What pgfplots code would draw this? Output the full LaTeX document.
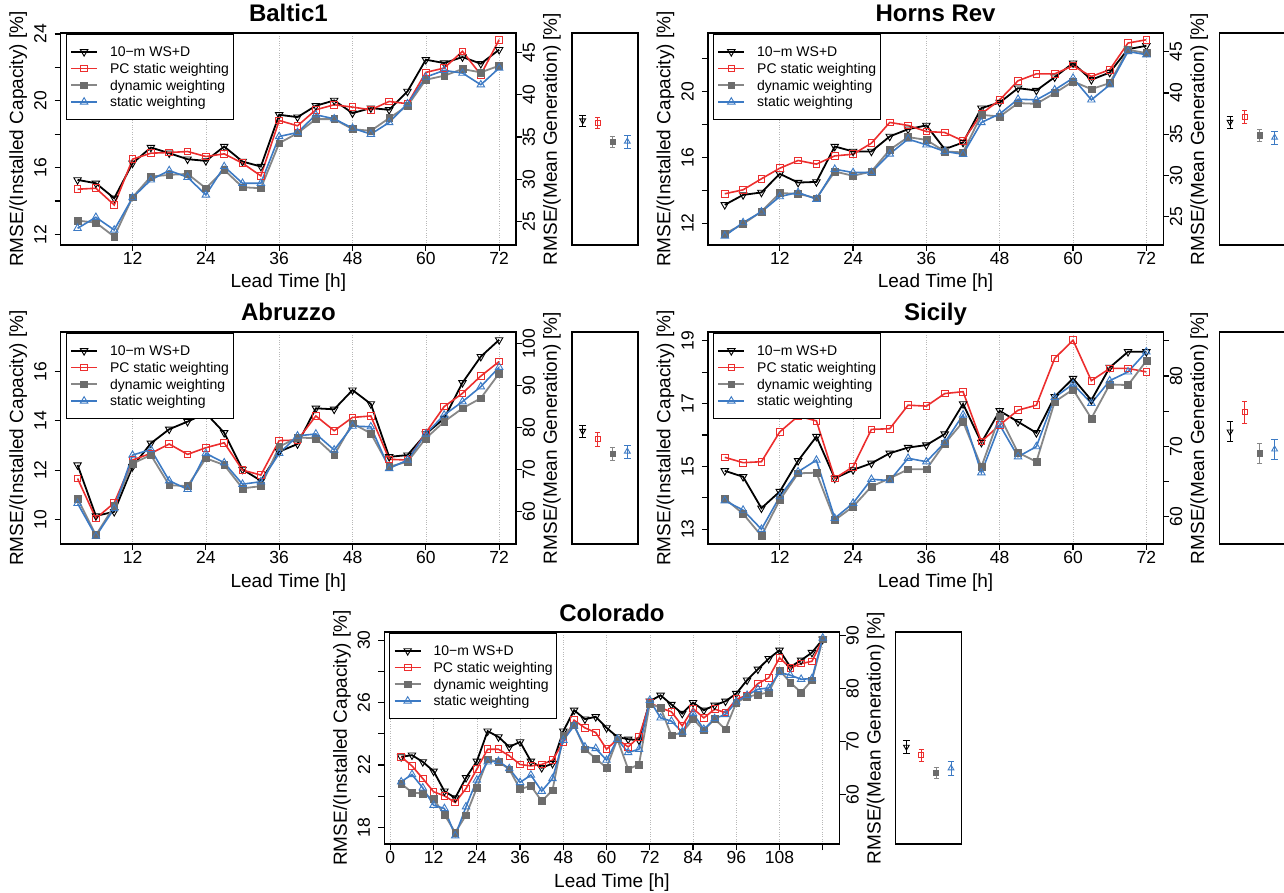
\documentclass[border=0pt]{standalone}
\usepackage{pgfplots}
\pgfplotsset{compat=1.18}
\usepackage{pgfplotstable}
\usepackage{fontspec}
\setmainfont{Liberation Sans}
\definecolor{cred}{RGB}{236,46,46}
\definecolor{cgrayl}{RGB}{135,135,135}
\definecolor{cgray}{RGB}{108,108,108}
\definecolor{cblue}{RGB}{60,122,196}

\pgfplotstableread{
t k p d s
3 15.26 14.70 12.82 12.36
6 15.06 14.76 12.70 13.02
9 14.16 13.76 11.86 12.26
12 16.26 16.50 14.22 14.20
15 17.20 16.86 15.46 15.26
18 16.86 16.90 15.56 15.82
21 16.50 16.96 15.62 15.42
24 16.40 16.66 14.76 14.36
27 17.26 16.82 15.86 16.06
30 16.36 16.26 14.82 15.06
33 16.06 15.50 14.76 15.06
36 19.16 18.82 17.46 17.86
39 19.02 18.50 18.06 18.10
42 19.70 19.46 18.90 19.16
45 20.02 19.76 18.90 18.92
48 19.26 19.62 18.30 18.36
51 19.56 19.46 18.20 18.00
54 19.46 19.96 18.96 18.70
57 20.56 19.82 19.70 19.82
60 22.46 21.70 21.26 21.42
63 22.26 21.96 21.50 21.82
66 22.62 22.96 21.90 21.66
69 22.22 21.56 21.70 20.96
72 23.06 23.66 22.10 21.96
}\tabBaltic

\pgfplotstableread{
t k p d s
3 13.12 13.79 11.36 11.23
6 13.72 14.03 11.96 12.04
9 13.87 14.70 12.71 12.69
12 15.00 15.34 13.83 13.62
15 14.47 15.81 13.79 13.87
18 14.51 15.59 13.52 13.46
21 16.66 16.09 15.14 15.28
24 16.36 16.19 14.88 15.08
27 16.36 16.86 15.14 15.08
30 17.27 18.12 16.46 16.21
33 17.71 17.94 17.23 17.11
36 17.94 17.57 17.06 16.76
39 16.50 17.51 16.36 16.36
42 16.90 17.00 16.30 16.19
45 18.99 18.64 18.58 18.12
48 19.33 19.49 18.48 18.64
51 20.20 20.65 19.29 19.53
54 20.06 21.07 19.25 19.49
57 20.87 21.07 19.90 20.10
60 21.72 21.56 20.61 20.81
63 20.71 20.91 20.14 19.49
66 21.15 21.32 20.51 20.40
69 22.57 22.94 22.53 22.43
72 22.77 23.14 22.33 22.23
}\tabHorns

\pgfplotstableread{
t k p d s
3 12.21 11.66 10.85 10.65
6 10.14 10.04 9.36 9.32
9 10.31 10.67 10.54 10.44
12 12.14 12.41 12.27 12.61
15 13.09 12.68 12.61 12.84
18 13.66 13.06 11.39 11.57
21 13.97 12.64 11.35 11.22
24 14.31 12.91 12.48 12.68
27 13.52 13.11 12.21 12.30
30 12.03 12.00 11.26 11.43
33 11.57 11.80 11.35 11.53
36 12.75 13.20 12.95 12.68
39 13.06 13.22 13.33 13.39
42 14.51 14.20 13.29 13.47
45 14.47 13.60 12.61 12.82
48 15.25 14.14 13.90 13.79
51 14.69 14.20 13.49 13.76
54 12.54 12.44 12.14 12.07
57 12.61 12.41 12.34 12.41
60 13.47 13.52 13.29 13.47
63 14.10 14.58 13.97 14.24
66 15.55 15.12 14.51 14.78
69 16.61 15.82 14.92 15.39
72 17.29 16.41 15.93 16.18
}\tabAbruzzo

\pgfplotstableread{
t k p d s
3 14.86 15.29 13.98 13.91
6 14.67 15.12 13.49 13.61
9 13.67 15.15 12.79 13.00
12 14.20 16.10 13.93 14.04
15 15.18 16.60 14.78 14.83
18 15.95 16.45 14.80 15.20
21 14.62 14.62 13.29 13.35
24 14.89 14.99 13.72 13.83
27 15.10 16.18 14.36 14.59
30 15.42 16.20 14.62 14.55
33 15.60 16.95 14.91 15.26
36 15.68 16.92 14.91 15.15
39 16.03 17.32 15.73 15.76
42 16.99 17.38 16.42 16.64
45 15.76 15.79 14.99 14.80
48 16.77 16.32 16.60 16.32
51 16.42 16.79 15.44 15.31
54 16.07 16.95 15.15 15.63
57 17.22 18.44 17.06 17.20
60 17.80 19.02 17.45 17.62
63 17.11 17.73 16.53 17.01
66 18.15 18.12 17.61 17.73
69 18.65 18.12 17.59 18.01
72 18.65 18.01 18.36 18.65
}\tabSicily

\pgfplotstableread{
t k p d s
3 22.52 22.52 20.81 20.92
6 22.63 21.94 20.23 21.39
9 22.20 21.13 20.17 20.53
12 21.60 20.28 19.81 19.42
15 20.32 20.02 18.82 19.21
18 19.89 19.59 17.67 17.46
21 21.18 20.49 18.78 19.32
24 22.24 21.73 20.53 21.03
27 24.17 23.01 22.37 22.20
30 23.80 23.01 22.20 22.24
33 23.16 22.59 21.73 21.77
36 23.48 22.03 20.45 20.88
39 22.24 21.94 20.66 21.35
42 21.82 22.03 19.68 20.32
45 22.09 22.31 20.38 21.13
48 24.17 23.48 23.91 23.59
51 25.51 24.87 24.55 24.51
54 24.94 24.38 23.01 23.16
57 25.09 24.08 22.41 23.06
60 24.38 23.01 21.82 22.31
63 23.80 23.65 23.65 23.65
66 23.65 23.16 21.73 22.80
69 23.59 23.80 22.03 23.01
72 26.09 26.00 25.94 26.15
75 26.47 25.66 25.66 25.02
78 25.88 25.41 23.91 24.81
81 25.30 24.51 24.08 24.12
84 26.00 25.62 24.94 25.30
87 25.51 25.02 24.23 24.29
90 25.83 25.58 24.94 24.98
93 26.09 25.36 24.29 25.24
96 26.58 26.22 26.00 26.05
99 27.44 26.47 26.37 26.47
102 28.14 27.22 26.52 26.86
105 28.82 27.59 26.65 26.94
108 29.36 28.87 28.08 27.93
111 28.29 28.23 27.29 27.76
114 28.72 28.50 26.65 27.50
117 29.21 28.65 27.44 27.54
120 30.06 30.06 30.06 30.15
}\tabColorado

\pgfplotsset{
  sblack/.style={black, line width=1.8pt, mark=triangle, mark size=4.3pt, mark options={solid, rotate=180, line width=0.9pt, fill=none}},
  sred/.style={cred, line width=1.6pt, mark=square, mark size=3.3pt, mark options={solid, line width=0.9pt, fill=none}},
  sgray/.style={cgrayl, line width=1.8pt, mark=square*, mark size=3.4pt, mark options={solid, draw=cgray, fill=cgray, line width=0.5pt}},
  sblue/.style={cblue, line width=1.6pt, mark=triangle, mark size=4.3pt, mark options={solid, line width=0.9pt, fill=none}},
  base/.style={scale only axis, height=212pt,
    axis line style={line width=1.4pt},
    tick align=outside, major tick length=6pt,
    every tick/.style={black, line width=1.2pt},
    ticklabel style={font=\fontsize{17.5}{20}\selectfont},
    /pgf/number format/assume math mode=true,
    label style={font=\fontsize{19}{22}\selectfont}},
  mainax/.style={base, width=455.3pt, tick pos=left,
    xmajorgrids, grid style={dotted, black!28, line width=0.55pt},
    xmin=0.24, xmax=74.76, xtick={12,24,...,72},
    xticklabel style={anchor=base, yshift=-13.5pt, inner sep=0pt},
    yticklabel style={xshift=-8pt, rotate=90, anchor=south, inner sep=0pt},
    xlabel={Lead Time [h]}, ylabel={RMSE/(Installed Capacity) [\%]},
    xlabel style={at={(axis description cs:0.5,0)}, anchor=base, yshift=-43pt, inner sep=0pt},
    ylabel style={at={(axis description cs:-0.0931,0.5)}, anchor=center, inner sep=0pt},
    title style={font=\bfseries\fontsize{24}{28}\selectfont, at={(axis description cs:0.5,1)}, anchor=base, yshift=5pt, inner sep=0pt},
    legend image code/.code={\draw[mark repeat=2, mark phase=2, ##1] plot coordinates {(0pt,0pt) (13pt,0pt) (26pt,0pt)};},
    legend cell align=left,
    legend style={at={(axis description cs:0,1)}, anchor=north west, xshift=5pt, yshift=-1pt,
      draw=black, line width=1pt, fill=white, font=\fontsize{14}{16}\selectfont,
      inner xsep=4pt, inner ysep=9pt, column sep=12pt, row sep=0pt,
      nodes={inner sep=0pt, text height=13.35pt, text depth=3.35pt}}},
  rightax/.style={base, width=455.3pt, axis x line=none, axis y line*=right, xmin=0, xmax=1,
    yticklabel style={xshift=0.5pt, rotate=90, anchor=north, inner sep=0pt}},
  sideax/.style={base, width=66pt, xmin=0.28, xmax=4.72, xtick=\empty, ytick=\empty,
    axis line style={line width=1.1pt},
    ylabel={RMSE/(Mean Generation) [\%]},
    ylabel style={at={(axis description cs:-0.303,0.5)}, anchor=center, inner sep=0pt}},
}

\newcommand{\fourseries}[1]{%
  \addplot[sblack] table[x=t,y=k]{#1};
  \addplot[sred] table[x=t,y=p]{#1};
  \addplot[sgray] table[x=t,y=d]{#1};
  \addplot[sblue] table[x=t,y=s]{#1};
  \legend{10−m WS+D, PC static weighting, dynamic weighting, static weighting}
}
\newcommand{\sidepoints}[8]{%
  \addplot[sblack, mark size=3.3pt, only marks, error bars/.cd, y dir=both, y explicit, error bar style={line width=1pt, black}] coordinates {(1,#1) +- (0,#2)};
  \addplot[sred, mark size=2.6pt, only marks, error bars/.cd, y dir=both, y explicit, error bar style={line width=1pt, cred}] coordinates {(2,#3) +- (0,#4)};
  \addplot[sgray, mark size=2.6pt, only marks, error bars/.cd, y dir=both, y explicit, error bar style={line width=1pt, cgrayl}] coordinates {(3,#5) +- (0,#6)};
  \addplot[sblue, mark size=3.3pt, only marks, error bars/.cd, y dir=both, y explicit, error bar style={line width=1pt, cblue}] coordinates {(4,#7) +- (0,#8)};
}

\begin{document}
\begin{tikzpicture}[x=1pt,y=1pt]
\path[use as bounding box] (0,0) rectangle (1284,892);

% ---------------- Baltic1
\begin{axis}[mainax, at={(60.7pt,647pt)}, anchor=south west, title={Baltic1},
  ymin=11.36, ymax=24.06, ytick={12,14,...,24}, yticklabels={12,{},16,{},20,{},24}]
\fourseries{\tabBaltic}
\end{axis}
\begin{axis}[rightax, at={(60.7pt,647pt)}, anchor=south west, ymin=22.24, ymax=47.3, ytick={25,30,...,45}]
\addplot[draw=none] coordinates {(0.5,30)};
\end{axis}
\begin{axis}[sideax, at={(572pt,647pt)}, anchor=south west, ymin=22.24, ymax=47.3]
\sidepoints{36.95}{0.69}{36.64}{0.65}{34.47}{0.67}{34.47}{0.79}
\end{axis}

% ---------------- Horns Rev
\begin{axis}[mainax, at={(707.9pt,647pt)}, anchor=south west, title={Horns Rev},
  ymin=10.68, ymax=23.55, ytick={12,14,...,22}, yticklabels={12,{},16,{},20,{}}]
\fourseries{\tabHorns}
\end{axis}
\begin{axis}[rightax, at={(707.9pt,647pt)}, anchor=south west, ymin=21.6, ymax=47.25, ytick={25,30,...,45}]
\addplot[draw=none] coordinates {(0.5,30)};
\end{axis}
\begin{axis}[sideax, at={(1219.3pt,647pt)}, anchor=south west, ymin=21.6, ymax=47.25]
\sidepoints{36.48}{0.74}{37.12}{0.78}{34.88}{0.76}{34.6}{0.76}
\end{axis}

% ---------------- Abruzzo
\begin{axis}[mainax, at={(60.7pt,348pt)}, anchor=south west, title={Abruzzo},
  ymin=9.0, ymax=17.61, ytick={10,12,...,16}]
\fourseries{\tabAbruzzo}
\end{axis}
\begin{axis}[rightax, at={(60.7pt,348pt)}, anchor=south west, ymin=52.2, ymax=102.8, ytick={60,70,...,100}]
\addplot[draw=none] coordinates {(0.5,70)};
\end{axis}
\begin{axis}[sideax, at={(572pt,348pt)}, anchor=south west, ymin=52.2, ymax=102.8]
\sidepoints{79.15}{1.5}{77.2}{1.6}{73.7}{1.5}{74.3}{1.6}
\end{axis}

% ---------------- Sicily
\begin{axis}[mainax, at={(707.9pt,348pt)}, anchor=south west, title={Sicily},
  ymin=12.53, ymax=19.28, ytick={13,14,...,19}, yticklabels={13,{},15,{},17,{},19}]
\fourseries{\tabSicily}
\end{axis}
\begin{axis}[rightax, at={(707.9pt,348pt)}, anchor=south west, ymin=56.1, ymax=86.26, ytick={60,65,...,85}, yticklabels={60,{},70,{},80,{}}]
\addplot[draw=none] coordinates {(0.5,70)};
\end{axis}
\begin{axis}[sideax, at={(1219.3pt,348pt)}, anchor=south west, ymin=56.1, ymax=86.26]
\sidepoints{72.08}{1.42}{74.84}{1.54}{69.0}{1.38}{69.57}{1.42}
\end{axis}

% ---------------- Colorado
\begin{axis}[mainax, at={(384.3pt,48pt)}, anchor=south west, title={Colorado},
  xmin=-1.68, xmax=124.68, xtick={0,12,...,120}, xticklabels={0,12,24,36,48,60,72,84,96,108,{}},
  ymin=16.93, ymax=30.53, ytick={18,20,...,30}, yticklabels={18,{},22,{},26,{},30}]
\fourseries{\tabColorado}
\end{axis}
\begin{axis}[rightax, at={(384.3pt,48pt)}, anchor=south west, ymin=50.7, ymax=90.7, ytick={60,70,...,90}]
\addplot[draw=none] coordinates {(0.5,70)};
\end{axis}
\begin{axis}[sideax, at={(895.7pt,48pt)}, anchor=south west, ymin=50.7, ymax=90.7]
\sidepoints{69.03}{1.24}{67.48}{1.18}{64.18}{1.0}{65.0}{1.24}
\end{axis}
\end{tikzpicture}
\end{document}
